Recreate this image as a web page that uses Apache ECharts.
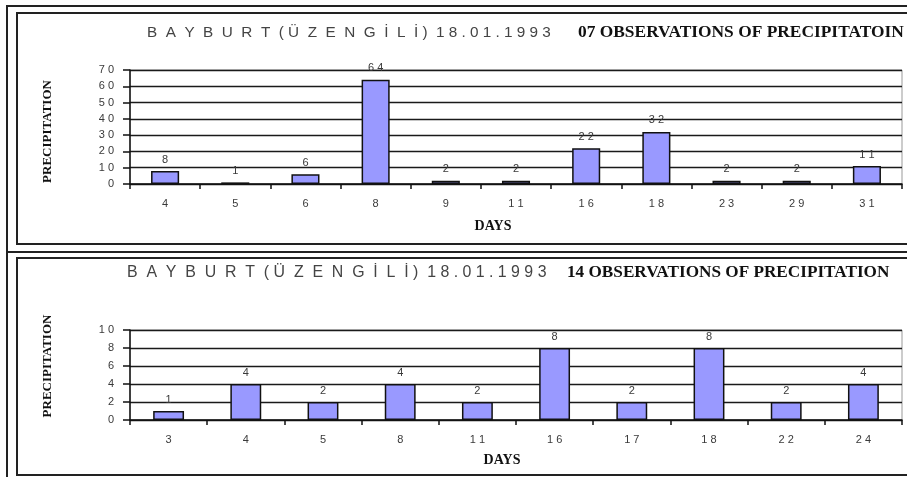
<!DOCTYPE html>
<html>
<head>
<meta charset="utf-8">
<script src="https://cdn.jsdelivr.net/npm/echarts@6/dist/echarts.min.js"></script>
<style>
html,body{margin:0;padding:0;background:#fff;}
#precip{width:907px;height:477px;}
</style>
</head>
<body>
<div id="precip"></div>
<script>
// ======================================
// Bayburt (Üzengili) 18.01.1993
// precipitation observations, two bar panels
// ======================================

const days07 = ["4","5","6","8","9","11","16","18","23","29","31"];
const values07 = [8,1,6,64,2,2,22,32,2,2,11];
const ticks07 = [0,10,20,30,40,50,60,70];

const days14 = ["3","4","5","8","11","16","17","18","22","24"];
const values14 = [1,4,2,4,2,8,2,8,2,4];
const ticks14 = [0,2,4,6,8,10];

const titleLeft = "B  A  Y  B  U  R  T  ( Ü  Z  E  N  G  İ  L  İ )  1 8 . 0 1 . 1 9 9 3";
const title07 = "07 OBSERVATIONS OF PRECIPITATOIN";
const title14 = "14 OBSERVATIONS OF PRECIPITATION";

const dom = document.getElementById("precip");
const chart = echarts.init(dom);

// spaced digits, like the scan
const spaced = v => String(v).split("").join(" ");

const grayText = {
color:"#3a3a3a",
fontFamily:"Liberation Sans, Arial",
fontSize:11
};

const serifBold = {
color:"#111",
fontFamily:"Liberation Serif, Times New Roman",
fontWeight:"bold",
fontSize:13
};

const grayTitle = {
color:"#444",
fontFamily:"Liberation Sans, Arial",
fontWeight:"normal",
fontSize:15.3
};

function xAxisFor(gridIndex, data){

return {
type:"category",
gridIndex:gridIndex,
data:data,
name:"DAYS",
nameLocation:"middle",
nameGap:gridIndex==0 ? 35 : 33,
nameTextStyle:Object.assign({}, serifBold, {
fontSize:14,
padding:[0, gridIndex==0 ? 46 : 28, 0, 0]
}),
axisLine:{
lineStyle:{color:"#111", width:1.5}
},
axisTick:{
show:true,
length:5,
lineStyle:{color:"#111", width:1.5}
},
axisLabel:Object.assign({}, grayText, {
margin:14,
formatter:spaced
}),
splitLine:{show:false}
};

}

function yAxisFor(gridIndex, ticks){

return {
type:"value",
gridIndex:gridIndex,
min:ticks[0],
max:ticks[ticks.length-1],
interval:ticks[1]-ticks[0],
name:"PRECIPITATION",
nameLocation:"middle",
nameRotate:90,
nameGap:76,
nameTextStyle:Object.assign({}, serifBold, {
padding:gridIndex==0 ? [0, 9, 0, 0] : [0, 0, 0, 18]
}),
axisLine:{
show:true,
lineStyle:{color:"#111", width:1.5}
},
axisTick:{
show:true,
length:7,
lineStyle:{color:"#111", width:1.5}
},
axisLabel:Object.assign({}, grayText, {
margin:16,
formatter:spaced
}),
splitLine:{
show:true,
lineStyle:{color:"#1a1a1a", width:1.4}
}
};

}

function barsFor(index, values){

return {
type:"bar",
xAxisIndex:index,
yAxisIndex:index,
data:values,
barWidth:"40%",
itemStyle:{
color:"#9999ff",
borderColor:"#111",
borderWidth:1.5
},
label:{
show:true,
position:"top",
distance:6,
formatter:p=>spaced(p.value),
color:"#3a3a3a",
fontFamily:"Liberation Sans, Arial",
fontSize:11
}
};

}

const option = {

backgroundColor:"#fff",

animation:false,

title:[

{
text:titleLeft,
left:142,
top:20,
textStyle:grayTitle
},

{
text:title07,
left:573,
top:19,
textStyle:Object.assign({}, serifBold, {fontSize:17.4})
},

{
text:titleLeft,
left:122,
top:260,
textStyle:Object.assign({}, grayTitle, {fontSize:15.9})
},

{
text:title14,
left:562,
top:259,
textStyle:Object.assign({}, serifBold, {fontSize:17.2})
}

],

grid:[

{
left:130,
top:70,
width:772,
height:114,
show:true,
borderColor:"#999",
borderWidth:1
},

{
left:130,
top:330,
width:772,
height:90,
show:true,
borderColor:"#999",
borderWidth:1
}

],

xAxis:[
xAxisFor(0, days07),
xAxisFor(1, days14)
],

yAxis:[
yAxisFor(0, ticks07),
yAxisFor(1, ticks14)
],

series:[
barsFor(0, values07),
barsFor(1, values14)
],

// the double frames round each panel
graphic:[

{
type:"rect",
shape:{x:7, y:6, width:920, height:246},
style:{fill:"none", stroke:"#222", lineWidth:2}
},

{
type:"rect",
shape:{x:17, y:13, width:920, height:231},
style:{fill:"none", stroke:"#222", lineWidth:2}
},

{
type:"rect",
shape:{x:7, y:252, width:920, height:240},
style:{fill:"none", stroke:"#222", lineWidth:2}
},

{
type:"rect",
shape:{x:17, y:258, width:920, height:217},
style:{fill:"none", stroke:"#222", lineWidth:2}
}

]

};

chart.setOption(option);

window.addEventListener(
"resize",
()=>chart.resize()
);
</script>
</body>
</html>
